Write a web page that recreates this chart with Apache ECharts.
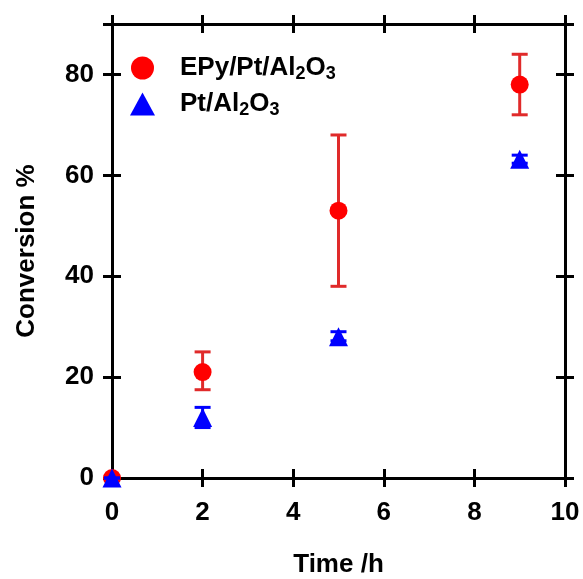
<!DOCTYPE html>
<html>
<head>
<meta charset="utf-8">
<script src="https://cdn.jsdelivr.net/npm/echarts@6/dist/echarts.min.js"></script>
<style>
  html, body { margin: 0; padding: 0; background: #fff; }
  #chart { width: 583px; height: 579px; }
</style>
</head>
<body>
<div id="chart"></div>
<script>
// data
const timeH = [0, 2, 5, 9];
const epyConv = [0, 21, 53, 78];
const epyLow = [0, 17.5, 38, 72];
const epyHigh = [0, 25, 68, 84];
const ptConv = [0, 12, 28, 63.2];
const ptLow = [0, 10, 27.2, 62.4];
const ptHigh = [0, 14, 29, 64];
const xTicks = [0, 2, 4, 6, 8, 10];
const yTicks = [0, 20, 40, 60, 80];

const FONT = "Liberation Sans";
const RED = "#ff0000";
const RED_BAR = "#e02a2a";
const BLUE = "#0000ff";

const chart = echarts.init(document.getElementById("chart"));

function errData(lo, hi) {
  return timeH.map((t, i) => [t, lo[i], hi[i]]);
}

function errBar(color) {
  return function (params, api) {
    const x = api.value(0);
    const top = api.coord([x, api.value(2)]);
    const bot = api.coord([x, api.value(1)]);
    const half = 8;
    const style = { stroke: color, lineWidth: 3 };
    return {
      type: "group",
      children: [
        { type: "line", shape: { x1: top[0], y1: top[1], x2: bot[0], y2: bot[1] }, style: style },
        { type: "line", shape: { x1: top[0] - half, y1: top[1], x2: top[0] + half, y2: top[1] }, style: style },
        { type: "line", shape: { x1: bot[0] - half, y1: bot[1], x2: bot[0] + half, y2: bot[1] }, style: style }
      ]
    };
  };
}

const lineStyle = { color: "#000", width: 3 };
const tickStyle = { color: "#000", width: 3 };

function xAx(pos, inside, labels) {
  return {
    type: "value", position: pos, min: 0, max: 10, interval: 2,
    axisLine: { show: true, onZero: false, lineStyle: lineStyle },
    axisTick: { show: true, inside: inside, length: 9, lineStyle: tickStyle },
    axisLabel: labels ? {
      show: true, margin: 22, color: "#000", fontFamily: FONT, fontWeight: "bold", fontSize: 26,
      formatter: v => xTicks.includes(v) ? String(v) : ""
    } : { show: false },
    splitLine: { show: false }
  };
}

function yAx(pos, inside, labels) {
  return {
    type: "value", position: pos, min: 0, max: 90, interval: 20,
    axisLine: { show: true, onZero: false, lineStyle: lineStyle },
    axisTick: { show: true, inside: inside, length: 9, lineStyle: tickStyle },
    axisLabel: labels ? {
      show: true, margin: 18, color: "#000", fontFamily: FONT, fontWeight: "bold", fontSize: 26,
      formatter: v => yTicks.includes(v) ? String(v) : ""
    } : { show: false },
    splitLine: { show: false }
  };
}

const xAxes = [xAx("bottom", false, true), xAx("bottom", true, false), xAx("top", false, false), xAx("top", true, false)];
const yAxes = [yAx("left", false, true), yAx("left", true, false), yAx("right", false, false), yAx("right", true, false)];
xAxes[0].name = "Time /h";
xAxes[0].nameLocation = "middle";
xAxes[0].nameGap = 74;
xAxes[0].nameTextStyle = { color: "#000", fontFamily: FONT, fontWeight: "bold", fontSize: 26 };
yAxes[0].name = "Conversion %";
yAxes[0].nameLocation = "middle";
yAxes[0].nameGap = 72;
yAxes[0].nameTextStyle = { color: "#000", fontFamily: FONT, fontWeight: "bold", fontSize: 26 };

chart.setOption({
  animation: false,
  backgroundColor: "#fff",
  grid: { left: 112, right: 18, top: 24, bottom: 101, outerBoundsMode: "none" },
  xAxis: xAxes,
  yAxis: yAxes,
  legend: {
    orient: "vertical",
    left: 125,
    top: 50,
    itemWidth: 25,
    itemHeight: 23,
    itemGap: 8,
    data: [
      { name: "EPy/Pt/Al2O3", icon: "circle" },
      { name: "Pt/Al2O3", icon: "triangle" }
    ],
    formatter: n => n === "EPy/Pt/Al2O3" ? "EPy/Pt/Al{s|2}O{s|3}" : "Pt/Al{s|2}O{s|3}",
    textStyle: {
      color: "#000", fontFamily: FONT, fontWeight: "bold", fontSize: 26, padding: [0, 0, 0, 20],
      rich: {
        s: { fontFamily: FONT, fontWeight: "bold", fontSize: 18, color: "#000", padding: [12, 0, 0, 0] }
      }
    }
  },
  series: [
    {
      type: "custom", name: "epyErr", renderItem: errBar(RED_BAR),
      data: errData(epyLow, epyHigh), encode: { x: 0, y: [1, 2] }, z: 2, silent: true
    },
    {
      type: "scatter", name: "EPy/Pt/Al2O3", symbol: "circle", symbolSize: 18,
      itemStyle: { color: RED, opacity: 1 }, z: 3,
      data: timeH.map((t, i) => [t, epyConv[i]])
    },
    {
      type: "custom", name: "ptErr", renderItem: errBar(BLUE),
      data: errData(ptLow, ptHigh), encode: { x: 0, y: [1, 2] }, z: 4, silent: true
    },
    {
      type: "scatter", name: "Pt/Al2O3", symbol: "triangle", symbolSize: 19,
      itemStyle: { color: BLUE, opacity: 1 }, z: 5,
      data: timeH.map((t, i) => [t, ptConv[i]])
    }
  ]
});
</script>
</body>
</html>
